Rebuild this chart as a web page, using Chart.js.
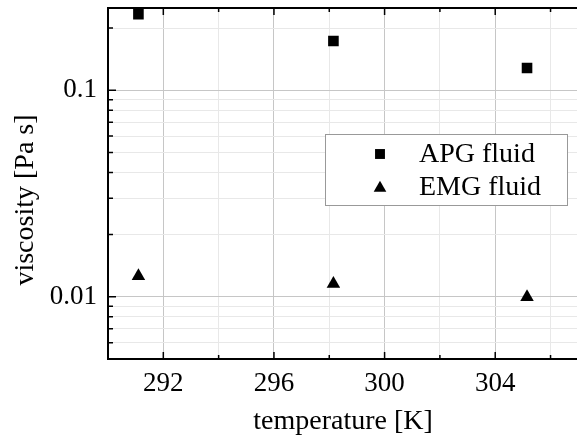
<!DOCTYPE html>
<html>
<head>
<meta charset="utf-8">
<script src="https://cdn.jsdelivr.net/npm/chart.js@4"></script>
<style>
html, body { margin: 0; padding: 0; background: #fff; overflow: hidden; }
</style>
</head>
<body>
<canvas id="myChart" width="586" height="438"></canvas>
<script>
// data
const temperatures = [291.1, 298.15, 305.15];
const apgViscosity = [0.233, 0.173, 0.128];
const emgViscosity = [0.0126, 0.01155, 0.00996];
const seriesNames = ['APG fluid', 'EMG fluid'];

const xTicks = [292, 294, 296, 298, 300, 302, 304, 306];
const xLabelTicks = [292, 296, 300, 304];
const yTicks = [0.006, 0.007, 0.008, 0.009, 0.01, 0.02, 0.03, 0.04, 0.05, 0.06, 0.07, 0.08, 0.09, 0.1, 0.2];
const yLabelTicks = [0.01, 0.1];

const xTitle = 'temperature [K]';
const yTitle = 'viscosity [Pa s]';

const FONT = '"Liberation Serif", "Times New Roman", serif';

function toPoints(xs, ys) {
    return xs.map((x, i) => ({ x: x, y: ys[i] }));
}

function noPadding(scale) {
    scale.paddingLeft = 0;
    scale.paddingRight = 0;
    scale.paddingTop = 0;
    scale.paddingBottom = 0;
}

const framePlugin = {
    id: 'frame',
    afterDraw(chart) {
        const ctx = chart.ctx;
        const area = chart.chartArea;
        const xs = chart.scales.x;
        const ys = chart.scales.y;

        ctx.save();
        ctx.strokeStyle = '#000';

        // top border
        ctx.lineWidth = 2;
        ctx.beginPath();
        ctx.moveTo(area.left - 1, area.top);
        ctx.lineTo(area.right, area.top);
        ctx.stroke();

        // inward tick marks
        ctx.lineWidth = 1.5;
        ctx.beginPath();
        xs.ticks.forEach(t => {
            const px = xs.getPixelForValue(t.value);
            const len = xLabelTicks.includes(t.value) ? 7 : 4;
            ctx.moveTo(px, area.bottom);
            ctx.lineTo(px, area.bottom - len);
            ctx.moveTo(px, area.top);
            ctx.lineTo(px, area.top + len);
        });
        ys.ticks.forEach(t => {
            const py = ys.getPixelForValue(t.value);
            const len = yLabelTicks.includes(t.value) ? 8 : 5;
            ctx.moveTo(area.left, py);
            ctx.lineTo(area.left + len, py);
        });
        ctx.stroke();

        // axis titles
        ctx.fillStyle = '#000';
        ctx.font = '28px ' + FONT;
        ctx.textAlign = 'center';
        ctx.textBaseline = 'middle';
        ctx.fillText(xTitle, (area.left + area.right) / 2, 422);
        ctx.save();
        ctx.translate(26, 200);
        ctx.rotate(-Math.PI / 2);
        ctx.fillText(yTitle, 0, 0);
        ctx.restore();

        // legend box
        const bx = area.left + 217, by = area.top + 126, bw = 242, bh = 71;
        ctx.fillStyle = '#fff';
        ctx.fillRect(bx, by, bw, bh);
        ctx.strokeStyle = '#999';
        ctx.lineWidth = 1;
        ctx.strokeRect(bx + 0.5, by + 0.5, bw, bh);

        ctx.textAlign = 'left';
        ctx.font = '28px ' + FONT;
        chart.data.datasets.forEach((ds, i) => {
            const cy = by + 20 + i * 33;
            ctx.fillStyle = '#000';
            Chart.helpers.drawPoint(ctx, {
                pointStyle: ds.pointStyle,
                radius: ds.pointStyle === 'rect' ? 7 : 7.3,
                rotation: 0,
                borderWidth: 0
            }, bx + 55, cy + (ds.pointStyle === 'triangle' ? 1 : 0));
            ctx.fillStyle = '#000';
            ctx.fillText(ds.label, bx + 94, cy + 1);
        });
        ctx.restore();
    }
};

const ctx = document.getElementById('myChart').getContext('2d');

new Chart(ctx, {
    type: 'scatter',
    data: {
        datasets: [
            {
                label: seriesNames[0],
                data: toPoints(temperatures, apgViscosity),
                pointStyle: 'rect',
                pointRadius: 7.5,
                backgroundColor: '#000',
                borderWidth: 0
            },
            {
                label: seriesNames[1],
                data: toPoints(temperatures, emgViscosity),
                pointStyle: 'triangle',
                pointRadius: 7.8,
                backgroundColor: '#000',
                borderWidth: 0
            }
        ]
    },
    options: {
        responsive: false,
        animation: false,
        layout: { padding: { top: 8, right: 2, left: 0, bottom: 0 } },
        plugins: {
            legend: { display: false },
            tooltip: { enabled: false }
        },
        scales: {
            x: {
                type: 'linear',
                min: 290,
                max: 307,
                afterBuildTicks: scale => { scale.ticks = xTicks.map(v => ({ value: v })); },
                afterFit: scale => { scale.height = 79; noPadding(scale); },
                grid: {
                    drawTicks: false,
                    color: c => (c.tick && xLabelTicks.includes(c.tick.value)) ? '#c6c6c6' : '#e8e8e8',
                    lineWidth: 1
                },
                border: { display: true, color: '#000', width: 2 },
                ticks: {
                    autoSkip: false,
                    maxRotation: 0,
                    padding: 9,
                    color: '#000',
                    font: { family: FONT, size: 27 },
                    callback: v => xLabelTicks.includes(v) ? String(v) : ''
                }
            },
            y: {
                type: 'logarithmic',
                min: 0.005,
                max: 0.25,
                afterBuildTicks: scale => { scale.ticks = yTicks.map(v => ({ value: v })); },
                afterFit: scale => { scale.width = 108; noPadding(scale); },
                grid: {
                    drawTicks: false,
                    color: c => (c.tick && yLabelTicks.includes(c.tick.value)) ? '#c6c6c6' : '#e8e8e8',
                    lineWidth: 1
                },
                border: { display: true, color: '#000', width: 2 },
                ticks: {
                    autoSkip: false,
                    padding: 11,
                    color: '#000',
                    font: { family: FONT, size: 27 },
                    callback: v => yLabelTicks.includes(v) ? String(v) : ''
                }
            }
        }
    },
    plugins: [framePlugin]
});
</script>
</body>
</html>
